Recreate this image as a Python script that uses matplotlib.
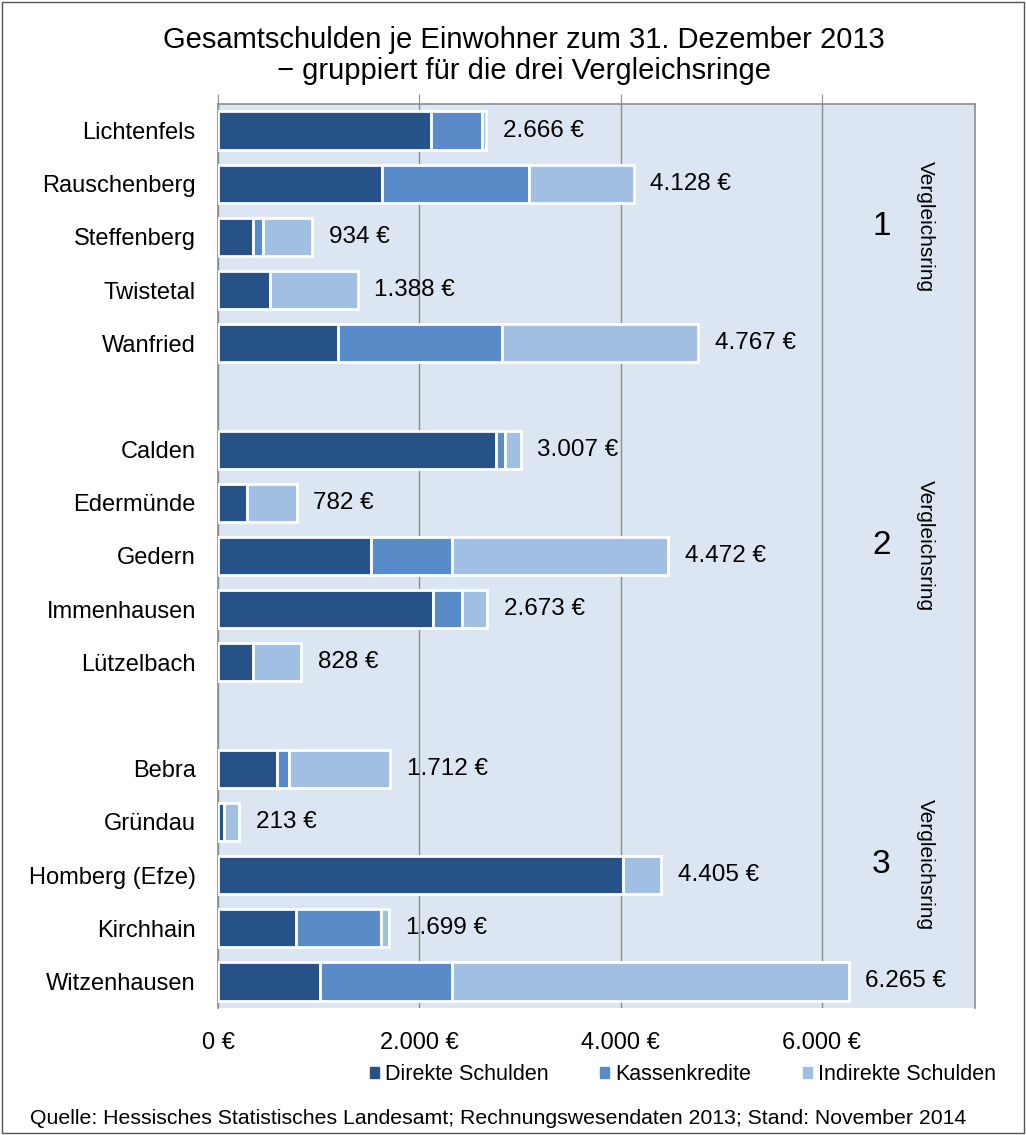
import numpy as np
import matplotlib.pyplot as plt
from matplotlib.patches import Patch, Rectangle

plt.rcParams['font.family'] = ['Liberation Sans', 'DejaVu Sans']

# data (€ per inhabitant)
gemeinden = ["Lichtenfels", "Rauschenberg", "Steffenberg", "Twistetal", "Wanfried",
             "Calden", "Edermünde", "Gedern", "Immenhausen", "Lützelbach",
             "Bebra", "Gründau", "Homberg (Efze)", "Kirchhain", "Witzenhausen"]
direkte = [2120, 1625, 350, 516, 1195,
           2761, 285, 1516, 2132, 351,
           588, 61, 4023, 775, 1013]
kassen = [500, 1465, 100, 0, 1630,
          89, 0, 808, 288, 0,
          117, 0, 0, 849, 1313]
gesamt = [2666, 4128, 934, 1388, 4767,
          3007, 782, 4472, 2673, 828,
          1712, 213, 4405, 1699, 6265]
ringe = ["1", "2", "3"]

direkte = np.array(direkte)
kassen = np.array(kassen)
gesamt = np.array(gesamt)
indirekte = gesamt - direkte - kassen

# row positions: groups of 5 with one empty row between
ypos = np.array([i + i // 5 for i in range(len(gemeinden))])

c_dir = "#265287"
c_kas = "#5A8BC9"
c_ind = "#A0BFE3"

fig = plt.figure(figsize=(10.26, 11.35), dpi=100)
ax = fig.add_axes([218 / 1026, 1 - 1008 / 1135, 757 / 1026, 904 / 1135])
ax.set_facecolor("#DCE6F2")

h = 0.72
kw = dict(height=h, edgecolor="white", linewidth=2, zorder=3)
ax.barh(ypos, direkte, color=c_dir, **kw)
ax.barh(ypos, kassen, left=direkte, color=c_kas, **kw)
ax.barh(ypos, indirekte, left=direkte + kassen, color=c_ind, **kw)

def fmt(v):
    return f"{v:,}".replace(",", ".") + " €"

for y, v in zip(ypos, gesamt):
    ax.annotate(fmt(v), (v, y), xytext=(12, 0), textcoords="offset points",
                va="center", ha="left", fontsize=17.5)

ax.set_xlim(0, 7520)
ax.set_ylim(ypos.max() + 0.5, -0.5)
ax.set_yticks(ypos)
ax.set_yticklabels(gemeinden, fontsize=17)
ax.tick_params(axis="y", length=0, pad=16)

ax.set_xticks([0, 2000, 4000, 6000])
ax.set_xticklabels([fmt(t) for t in [0, 2000, 4000, 6000]], fontsize=17)
ax.tick_params(axis="x", top=True, bottom=False, labeltop=False, labelbottom=True,
               direction="out", length=7, color="#8c8c8c", pad=10)
ax.grid(axis="x", color="#8c8c8c", linewidth=1, zorder=1)
ax.set_axisbelow(True)

for s in ["top", "left", "right"]:
    ax.spines[s].set_color("#8c8c8c")
    ax.spines[s].set_linewidth(1.2)
ax.spines["bottom"].set_visible(False)

# group annotations on the right
for k, r in enumerate(ringe):
    yc = ypos[k * 5 + 2] - 0.2
    ax.text(6590, yc, r, fontsize=24, ha="center", va="center")
    ax.text(7030, yc, "Vergleichsring", fontsize=15, rotation=-90,
            ha="center", va="center")

fig.suptitle("Gesamtschulden je Einwohner zum 31. Dezember 2013\n− gruppiert für die drei Vergleichsringe",
             x=524 / 1026, y=1 - 26 / 1135, fontsize=21, linespacing=1.15, va="top")

handles = [Patch(color=c_dir, label="Direkte Schulden"),
           Patch(color=c_kas, label="Kassenkredite"),
           Patch(color=c_ind, label="Indirekte Schulden")]
fig.legend(handles=handles, loc="center", bbox_to_anchor=(683 / 1026, 1 - 1075 / 1135),
           ncol=3, frameon=False, fontsize=15.5, handlelength=0.4, handleheight=0.4,
           handletextpad=0.3, columnspacing=2.4)

fig.text(30 / 1026, 1 - 1118 / 1135,
         "Quelle: Hessisches Statistisches Landesamt; Rechnungswesendaten 2013; Stand: November 2014",
         fontsize=15.3, va="center", ha="left")

fig.patches.append(Rectangle((0.002, 0.002), 0.996, 0.996, transform=fig.transFigure,
                             fill=False, edgecolor="#555555", linewidth=1))

fig.savefig("out.png", dpi=100)
